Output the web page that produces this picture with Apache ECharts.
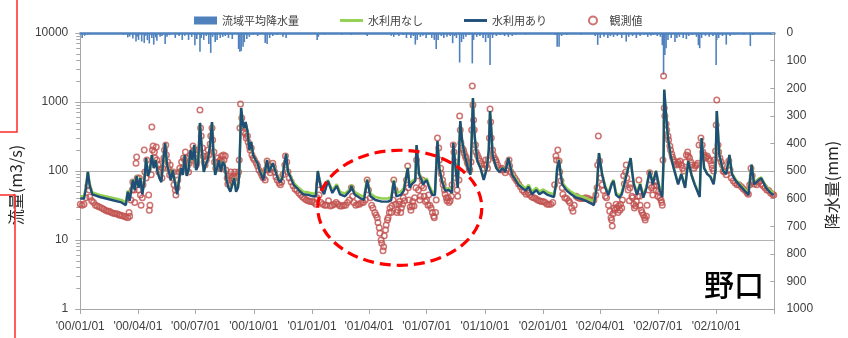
<!DOCTYPE html>
<html>
<head>
<meta charset="utf-8">
<script src="https://cdn.jsdelivr.net/npm/echarts@6/dist/echarts.min.js"></script>
<style>
  html, body { margin: 0; padding: 0; background: #ffffff; }
  #main { width: 848px; height: 338px; }
</style>
</head>
<body>
<div id="main"></div>
<script>
// Daily flow at 野口 (m3/s): [date, with water use, without water use]
const flow2000 = [
  ['2000-01-01',40,43],['2000-01-07',40,43],['2000-01-10',57,58],['2000-01-13',97,97],['2000-01-16',61,63],['2000-01-20',46,49],['2000-02-01',42,45],['2000-02-20',38,41],['2000-03-06',35,38],['2000-03-13',32,35],
  ['2000-03-16',50,52],['2000-03-19',37,40],['2000-03-24',74,76],['2000-03-27',53,56],['2000-03-30',85,86],['2000-04-02',57,60],['2000-04-05',79,80],['2000-04-08',46,49],['2000-04-11',69,70],['2000-04-14',154,154],
  ['2000-04-17',85,86],['2000-04-20',103,104],['2000-04-23',170,170],['2000-04-26',110,111],['2000-04-29',144,144],['2000-05-02',97,98],['2000-05-05',79,81],['2000-05-08',69,72],['2000-05-11',144,144],['2000-05-14',254,254],
  ['2000-05-17',122,122],['2000-05-20',97,98],['2000-05-23',74,76],['2000-05-26',103,104],['2000-05-30',63,66],['2000-06-02',46,49],['2000-06-05',74,76],['2000-06-08',110,110],['2000-06-11',88,89],['2000-06-14',170,170],
  ['2000-06-17',85,86],['2000-06-20',103,104],['2000-06-23',201,201],['2000-06-26',144,144],['2000-06-29',238,238],['2000-07-02',103,104],['2000-07-05',122,122],['2000-07-08',497,497],['2000-07-11',201,201],['2000-07-14',97,98],
  ['2000-07-17',122,122],['2000-07-20',144,144],['2000-07-23',201,201],['2000-07-27',513,513],['2000-07-29',201,201],['2000-08-01',88,89],['2000-08-04',110,110],['2000-08-07',144,144],['2000-08-10',97,98],['2000-08-13',135,135],
  ['2000-08-16',122,122],['2000-08-19',74,76],['2000-08-22',57,59],['2000-08-25',50,52],['2000-08-28',63,64],['2000-08-31',79,80],['2000-09-03',50,52],['2000-09-06',57,59],['2000-09-08',88,89],['2000-09-11',819,819],
  ['2000-09-14',465,465],['2000-09-16',420,420],['2000-09-18',513,513],['2000-09-21',380,380],['2000-09-24',201,201],['2000-09-27',263,263],['2000-09-30',170,170],['2000-10-04',144,144],['2000-10-07',130,130],['2000-10-10',103,104],
  ['2000-10-13',88,90],['2000-10-16',74,77],['2000-10-19',79,81],['2000-10-22',144,144],['2000-10-25',97,99],['2000-10-28',103,104],['2000-10-31',130,130],['2000-11-03',122,122],['2000-11-06',88,90],['2000-11-09',74,77],
  ['2000-11-12',69,72],['2000-11-15',79,81],['2000-11-18',122,122],['2000-11-21',176,176],['2000-11-24',97,99],['2000-11-27',85,88],['2000-12-03',63,67],['2000-12-11',53,57],['2000-12-18',46,50],['2000-12-26',45,49]
];
const flow2001 = [
  ['2001-01-02',43,47],['2001-01-07',43,47],['2001-01-10',100,100],['2001-01-15',57,61],['2001-01-20',46,50],['2001-01-26',72,74],['2001-02-02',48,52],['2001-02-09',61,64],['2001-02-14',46,50],['2001-02-22',43,47],
  ['2001-03-02',52,55],['2001-03-04',61,63],['2001-03-09',46,50],['2001-03-17',41,45],['2001-03-24',38,42],['2001-03-29',74,76],['2001-04-03',43,47],['2001-04-11',38,42],['2001-04-21',36,40],['2001-05-01',36,40],
  ['2001-05-06',38,42],['2001-05-10',72,74],['2001-05-14',43,48],['2001-05-21',45,50],['2001-05-26',52,57],['2001-06-01',110,112],['2001-06-04',57,62],['2001-06-08',65,71],['2001-06-13',72,77],['2001-06-15',238,238],
  ['2001-06-19',88,92],['2001-06-23',74,79],['2001-06-25',64,69],['2001-07-01',74,78],['2001-07-05',57,61],['2001-07-10',45,49],['2001-07-14',45,49],['2001-07-18',272,272],['2001-07-21',110,112],['2001-07-25',72,75],
  ['2001-07-30',52,55],['2001-08-05',53,56],['2001-08-10',48,51],['2001-08-12',254,254],['2001-08-16',100,101],['2001-08-19',57,59],['2001-08-21',57,59],['2001-08-23',530,530],['2001-08-26',272,272],['2001-08-30',170,170],
  ['2001-09-04',110,111],['2001-09-08',88,90],['2001-09-10',281,281],['2001-09-12',1143,1143],['2001-09-13',586,586],['2001-09-15',301,301],['2001-09-19',140,140],['2001-09-24',110,111],['2001-09-29',74,76],['2001-10-04',110,111],
  ['2001-10-07',201,201],['2001-10-09',740,740],['2001-10-11',393,393],['2001-10-13',170,170],['2001-10-19',110,111],['2001-10-24',97,99],['2001-10-29',110,111],['2001-11-02',97,99],['2001-11-07',154,154],['2001-11-13',88,92],
  ['2001-11-23',63,67],['2001-12-04',52,56],['2001-12-09',59,63],['2001-12-14',46,50],['2001-12-21',53,57],['2001-12-26',46,50]
];
const flow2002 = [
  ['2002-01-01',50,54],['2002-01-08',45,49],['2002-01-18',42,46],['2002-01-21',63,66],['2002-01-23',110,112],['2002-01-26',144,146],['2002-01-28',97,100],['2002-01-31',64,68],['2002-02-07',52,56],['2002-02-14',46,50],
  ['2002-02-22',41,45],['2002-03-02',39,43],['2002-03-09',37,41],['2002-03-17',34,38],['2002-03-22',32,36],['2002-03-27',63,65],['2002-03-30',182,182],['2002-04-04',88,90],['2002-04-09',57,60],['2002-04-14',45,48],
  ['2002-04-19',64,67],['2002-04-22',72,74],['2002-04-26',45,48],['2002-05-01',41,44],['2002-05-05',46,49],['2002-05-09',64,67],['2002-05-14',100,102],['2002-05-19',154,154],['2002-05-21',103,104],['2002-05-24',64,67],
  ['2002-05-29',45,48],['2002-06-03',64,66],['2002-06-08',41,44],['2002-06-13',57,60],['2002-06-18',100,101],['2002-06-23',64,67],['2002-06-28',100,101],['2002-07-04',52,55],['2002-07-08',42,45],['2002-07-10',144,144],
  ['2002-07-11',1510,1510],['2002-07-14',650,650],['2002-07-17',301,301],['2002-07-21',171,171],['2002-07-26',110,111],['2002-08-02',64,66],['2002-08-07',90,91],['2002-08-13',57,59],['2002-08-18',140,140],['2002-08-23',88,89],
  ['2002-08-28',64,66],['2002-09-05',42,44],['2002-09-08',301,301],['2002-09-12',110,111],['2002-09-17',90,91],['2002-09-22',82,84],['2002-09-27',64,66],['2002-09-30',103,104],['2002-10-02',740,740],['2002-10-06',171,171],
  ['2002-10-12',100,101],['2002-10-17',90,92],['2002-10-22',171,171],['2002-10-26',90,92],['2002-11-01',72,75],['2002-11-11',57,60],['2002-11-21',45,48],['2002-11-26',124,124],['2002-11-30',64,67],['2002-12-06',72,75],
  ['2002-12-11',79,81],['2002-12-19',57,60],['2002-12-26',48,51],['2002-12-31',45,48]
];

// Observed discharge (m3/s)
const obs2000 = [
  ['2000-01-01',33],['2000-01-04',32],['2000-01-07',33],['2000-01-10',41],['2000-01-13',61],['2000-01-15',53],['2000-01-16',42],['2000-01-19',37],['2000-01-22',35],['2000-01-25',32],
  ['2000-01-28',31],['2000-01-31',30],['2000-02-04',29],['2000-02-07',28],['2000-02-10',27],['2000-02-13',26],['2000-02-16',26],['2000-02-19',25],['2000-02-22',24.5],['2000-02-25',24],
  ['2000-02-28',24],['2000-03-02',23],['2000-03-04',23],['2000-03-07',22.5],['2000-03-10',22],['2000-03-13',21.5],['2000-03-16',21],['2000-03-18',25],['2000-03-19',22],
  ['2000-03-21',38],['2000-03-23',53],['2000-03-24',69],['2000-03-26',53],['2000-03-27',35],['2000-03-29',130],['2000-03-30',160],['2000-03-31',79],['2000-04-02',53],['2000-04-03',79],
  ['2000-04-05',45],['2000-04-06',32],['2000-04-08',41],['2000-04-09',63],['2000-04-11',201],['2000-04-12',97],['2000-04-14',79],['2000-04-15',144],['2000-04-17',103],['2000-04-18',45],
  ['2000-04-19',27],['2000-04-20',32],['2000-04-22',88],['2000-04-23',435],['2000-04-24',201],['2000-04-25',230],['2000-04-27',188],['2000-04-28',154],['2000-04-30',222],['2000-05-01',144],
  ['2000-05-03',122],['2000-05-04',97],['2000-05-06',126],['2000-05-07',103],['2000-05-09',79],['2000-05-10',110],['2000-05-12',154],['2000-05-13',201],['2000-05-15',238],['2000-05-16',170],
  ['2000-05-18',135],['2000-05-19',110],['2000-05-21',88],['2000-05-22',122],['2000-05-24',97],['2000-05-25',79],['2000-05-27',97],['2000-05-28',63],['2000-05-30',53],['2000-05-31',45],
  ['2000-06-02',57],['2000-06-03',74],['2000-06-05',97],['2000-06-06',110],['2000-06-08',97],['2000-06-09',135],['2000-06-11',110],['2000-06-12',154],['2000-06-14',144],['2000-06-15',188],
  ['2000-06-17',154],['2000-06-18',118],['2000-06-20',97],['2000-06-21',130],['2000-06-23',170],['2000-06-24',144],['2000-06-26',188],['2000-06-27',230],['2000-06-29',201],['2000-06-30',154],
  ['2000-07-02',122],['2000-07-03',135],['2000-07-05',201],['2000-07-08',766],['2000-07-09',420],['2000-07-10',321],['2000-07-12',215],['2000-07-13',165],['2000-07-15',135],['2000-07-16',122],
  ['2000-07-18',144],['2000-07-19',165],['2000-07-21',201],['2000-07-22',170],['2000-07-24',246],['2000-07-25',321],['2000-07-27',420],['2000-07-28',281],['2000-07-30',188],['2000-07-31',135],
  ['2000-08-02',110],['2000-08-03',130],['2000-08-05',154],['2000-08-06',135],['2000-08-08',110],['2000-08-09',144],['2000-08-11',165],['2000-08-12',135],['2000-08-14',170],['2000-08-15',144],
  ['2000-08-17',165],['2000-08-18',103],['2000-08-20',79],['2000-08-21',65],['2000-08-23',74],['2000-08-24',85],['2000-08-26',97],['2000-08-27',79],['2000-08-29',69],['2000-08-30',85],
  ['2000-09-01',97],['2000-09-02',79],['2000-09-04',69],['2000-09-05',85],['2000-09-07',97],['2000-09-08',144],['2000-09-09',420],['2000-09-10',936],['2000-09-12',586],['2000-09-13',449],
  ['2000-09-15',367],['2000-09-16',420],['2000-09-18',344],['2000-09-19',301],['2000-09-21',321],['2000-09-22',263],['2000-09-24',230],['2000-09-25',201],['2000-09-27',215],['2000-09-28',170],
  ['2000-09-30',154],['2000-10-02',144],['2000-10-05',130],['2000-10-07',118],['2000-10-09',103],['2000-10-12',94],['2000-10-14',85],['2000-10-16',79],['2000-10-19',74],['2000-10-20',103],
  ['2000-10-22',140],['2000-10-23',122],['2000-10-25',103],['2000-10-27',94],['2000-10-29',110],['2000-10-31',130],['2000-11-01',114],['2000-11-03',97],['2000-11-05',82],['2000-11-07',74],
  ['2000-11-10',67],['2000-11-12',63],['2000-11-14',69],['2000-11-16',88],['2000-11-19',122],['2000-11-20',165],['2000-11-22',135],['2000-11-24',97],['2000-11-26',79],['2000-11-29',69],
  ['2000-12-02',61],['2000-12-05',55],['2000-12-08',52],['2000-12-11',48],['2000-12-14',45],['2000-12-17',42],['2000-12-20',40],['2000-12-23',38],['2000-12-26',37],['2000-12-29',36]
];
const obs2001 = [
  ['2001-01-01',36],['2001-01-04',35],['2001-01-07',33],['2001-01-09',41],['2001-01-11',63],['2001-01-12',45],['2001-01-15',35],['2001-01-18',33],['2001-01-21',32],['2001-01-24',32],
  ['2001-01-27',37],['2001-01-30',31],['2001-02-02',32],['2001-02-05',33],['2001-02-08',35],['2001-02-11',33],['2001-02-14',31],['2001-02-17',31],['2001-02-20',32],['2001-02-23',32],
  ['2001-02-26',35],['2001-03-01',38],['2001-03-04',57],['2001-03-06',43],['2001-03-08',35],['2001-03-11',32],['2001-03-14',33],['2001-03-17',33],['2001-03-20',35],['2001-03-23',35],
  ['2001-03-26',38],['2001-03-29',74],['2001-03-31',53],['2001-04-03',41],['2001-04-05',32],['2001-04-07',29],['2001-04-10',25],['2001-04-12',23],['2001-04-14',21],['2001-04-15',18],
  ['2001-04-17',15],['2001-04-18',12.5],['2001-04-20',10],['2001-04-21',9],['2001-04-23',7],['2001-04-24',8],['2001-04-25',11.5],['2001-04-27',14],['2001-04-28',16.5],['2001-04-30',19.5],
  ['2001-05-01',21],['2001-05-03',25],['2001-05-04',29],['2001-05-06',25],['2001-05-07',31],['2001-05-09',38],['2001-05-10',74],['2001-05-12',53],['2001-05-13',33],['2001-05-15',25],
  ['2001-05-16',27],['2001-05-18',33],['2001-05-19',36],['2001-05-21',25],['2001-05-22',29],['2001-05-24',33],['2001-05-25',41],['2001-05-27',37],['2001-05-28',50],['2001-05-30',74],
  ['2001-06-01',118],['2001-06-02',57],['2001-06-03',38],['2001-06-05',30],['2001-06-06',27],['2001-06-08',31],['2001-06-09',36],['2001-06-11',31],['2001-06-12',41],['2001-06-14',57],
  ['2001-06-15',144],['2001-06-17',85],['2001-06-18',53],['2001-06-20',38],['2001-06-21',43],['2001-06-23',61],['2001-06-24',74],['2001-06-26',57],['2001-06-27',43],['2001-06-29',36],
  ['2001-07-01',38],['2001-07-03',32],['2001-07-04',45],['2001-07-06',32],['2001-07-08',29],['2001-07-10',25],['2001-07-12',22],['2001-07-13',21],['2001-07-15',25],['2001-07-16',38],
  ['2001-07-18',301],['2001-07-20',215],['2001-07-21',144],['2001-07-23',110],['2001-07-24',91],['2001-07-26',74],['2001-07-27',63],['2001-07-29',53],['2001-07-30',46],['2001-08-01',41],
  ['2001-08-02',37],['2001-08-04',41],['2001-08-05',35],['2001-08-07',37],['2001-08-09',43],['2001-08-10',63],['2001-08-12',238],['2001-08-13',188],['2001-08-15',135],['2001-08-16',79],
  ['2001-08-18',53],['2001-08-19',43],['2001-08-21',74],['2001-08-22',627],['2001-08-23',393],['2001-08-24',254],['2001-08-26',215],['2001-08-28',201],['2001-08-29',182],['2001-08-31',165],
  ['2001-09-01',154],['2001-09-03',135],['2001-09-04',126],['2001-09-06',110],['2001-09-07',103],['2001-09-09',135],['2001-09-10',393],['2001-09-11',1706],['2001-09-12',906],['2001-09-13',548],
  ['2001-09-14',393],['2001-09-16',238],['2001-09-17',188],['2001-09-19',170],['2001-09-21',154],['2001-09-23',140],['2001-09-26',126],['2001-09-28',110],['2001-09-30',122],['2001-10-02',144],
  ['2001-10-03',122],['2001-10-05',110],['2001-10-06',144],['2001-10-08',301],['2001-10-09',790],['2001-10-10',513],['2001-10-11',301],['2001-10-13',201],['2001-10-14',170],['2001-10-16',154],
  ['2001-10-18',144],['2001-10-19',135],['2001-10-21',122],['2001-10-24',110],['2001-10-26',103],['2001-10-28',110],['2001-10-30',103],['2001-11-02',94],['2001-11-04',103],['2001-11-06',130],
  ['2001-11-08',144],['2001-11-09',118],['2001-11-11',97],['2001-11-14',88],['2001-11-17',79],['2001-11-20',72],['2001-11-23',65],['2001-11-26',59],['2001-11-29',53],['2001-12-02',50],
  ['2001-12-05',46],['2001-12-08',48],['2001-12-11',45],['2001-12-14',42],['2001-12-17',41],['2001-12-20',40],['2001-12-23',38],['2001-12-26',37],['2001-12-29',36]
];
const obs2002 = [
  ['2002-01-01',36],['2002-01-04',35],['2002-01-07',33],['2002-01-10',33],['2002-01-13',33],['2002-01-16',35],['2002-01-19',63],['2002-01-21',165],['2002-01-22',144],['2002-01-24',201],
  ['2002-01-26',140],['2002-01-27',97],['2002-01-29',72],['2002-01-31',57],['2002-02-01',46],['2002-02-04',41],['2002-02-07',40],['2002-02-10',37],['2002-02-12',35],['2002-02-15',29],
  ['2002-02-17',26],['2002-02-19',32],['2002-02-22',43],['2002-02-25',41],['2002-02-28',40],['2002-03-03',40],['2002-03-06',40],['2002-03-09',41],['2002-03-13',40],['2002-03-16',38],
  ['2002-03-19',38],['2002-03-22',38],['2002-03-25',45],['2002-03-27',57],['2002-03-28',122],['2002-03-29',321],['2002-03-31',140],['2002-04-02',79],['2002-04-04',63],['2002-04-06',52],
  ['2002-04-09',43],['2002-04-11',41],['2002-04-14',32],['2002-04-16',26],['2002-04-18',21],['2002-04-19',19.5],['2002-04-20',16],['2002-04-21',24],['2002-04-23',29],['2002-04-24',27],
  ['2002-04-26',33],['2002-04-27',29],['2002-04-29',25],['2002-04-30',31],['2002-05-02',27],['2002-05-03',33],['2002-05-05',29],['2002-05-06',38],['2002-05-08',85],['2002-05-09',65],
  ['2002-05-11',97],['2002-05-12',122],['2002-05-13',79],['2002-05-15',53],['2002-05-17',37],['2002-05-18',57],['2002-05-19',65],['2002-05-21',43],['2002-05-22',41],['2002-05-24',33],
  ['2002-05-25',29],['2002-05-27',31],['2002-05-28',36],['2002-05-30',43],['2002-06-01',74],['2002-06-02',43],['2002-06-03',32],['2002-06-05',27],['2002-06-06',25],['2002-06-08',23],
  ['2002-06-10',21],['2002-06-11',19.5],['2002-06-13',22],['2002-06-14',32],['2002-06-16',53],['2002-06-18',94],['2002-06-20',74],['2002-06-21',57],['2002-06-23',45],['2002-06-25',61],
  ['2002-06-26',69],['2002-06-28',53],['2002-06-29',61],['2002-07-01',43],['2002-07-02',50],['2002-07-04',41],['2002-07-06',38],['2002-07-07',35],['2002-07-08',32],['2002-07-09',144],
  ['2002-07-10',2380],['2002-07-11',819],['2002-07-12',627],['2002-07-14',480],['2002-07-15',393],['2002-07-17',321],['2002-07-18',281],['2002-07-20',230],['2002-07-21',201],['2002-07-23',176],
  ['2002-07-24',160],['2002-07-26',144],['2002-07-27',135],['2002-07-29',126],['2002-07-31',122],['2002-08-02',135],['2002-08-03',126],['2002-08-05',140],['2002-08-07',122],['2002-08-09',110],
  ['2002-08-11',100],['2002-08-14',135],['2002-08-15',170],['2002-08-17',188],['2002-08-18',165],['2002-08-20',154],['2002-08-22',135],['2002-08-24',122],['2002-08-27',110],['2002-08-29',118],
  ['2002-08-31',122],['2002-09-02',130],['2002-09-04',238],['2002-09-07',301],['2002-09-09',238],['2002-09-10',188],['2002-09-12',170],['2002-09-14',154],['2002-09-15',160],['2002-09-17',165],
  ['2002-09-19',150],['2002-09-22',140],['2002-09-24',122],['2002-09-25',110],['2002-09-27',100],['2002-09-28',144],['2002-09-30',195],['2002-10-01',465],['2002-10-02',1070],['2002-10-04',238],
  ['2002-10-05',188],['2002-10-07',154],['2002-10-09',135],['2002-10-11',122],['2002-10-12',100],['2002-10-14',97],['2002-10-17',88],['2002-10-20',103],['2002-10-21',140],['2002-10-23',103],
  ['2002-10-25',79],['2002-10-28',72],['2002-10-31',67],['2002-11-03',63],['2002-11-06',63],['2002-11-10',59],['2002-11-13',55],['2002-11-16',52],['2002-11-19',48],['2002-11-21',46],
  ['2002-11-23',63],['2002-11-25',110],['2002-11-27',85],['2002-11-28',69],['2002-11-30',65],['2002-12-04',63],['2002-12-07',69],['2002-12-09',72],['2002-12-11',65],['2002-12-14',61],
  ['2002-12-17',57],['2002-12-20',53],['2002-12-23',52],['2002-12-26',48],['2002-12-29',46],['2002-12-31',45]
];

// Basin-average daily rainfall (mm)
const rain2000 = [
  ['2000-01-04',18],['2000-01-08',10],['2000-01-13',6],['2000-02-14',3],['2000-02-20',4],['2000-03-09',6],['2000-03-16',16],['2000-03-19',13],['2000-03-24',20],['2000-03-29',31],
  ['2000-03-31',13],['2000-04-02',25],['2000-04-07',31],['2000-04-11',36],['2000-04-13',10],['2000-04-16',26],['2000-04-19',38],['2000-04-23',18],['2000-04-26',42],['2000-04-29',16],
  ['2000-05-01',28],['2000-05-06',14],['2000-05-09',11],['2000-05-14',40],['2000-05-17',14],['2000-05-21',8],['2000-05-30',18],['2000-06-05',11],['2000-06-10',25],['2000-06-14',10],
  ['2000-06-20',25],['2000-06-25',14],['2000-06-30',44],['2000-07-03',22],['2000-07-08',68],['2000-07-10',18],['2000-07-14',25],['2000-07-18',11],['2000-07-22',40],['2000-07-25',72],
  ['2000-07-28',14],['2000-08-01',33],['2000-08-04',25],['2000-08-09',18],['2000-08-13',14],['2000-08-17',11],['2000-08-22',18],['2000-08-28',22],['2000-09-07',58],['2000-09-09',68],
  ['2000-09-11',65],['2000-09-14',50],['2000-09-16',33],['2000-09-20',22],['2000-09-24',14],['2000-09-30',7],['2000-10-07',11],['2000-10-12',4],['2000-10-19',36],['2000-10-22',40],
  ['2000-10-26',18],['2000-10-31',11],['2000-11-07',7],['2000-11-16',14],['2000-11-21',18],['2000-11-28',4],['2000-12-15',3],['2000-12-26',3]
];
const rain2001 = [
  ['2001-01-09',25],['2001-01-11',14],['2001-01-21',6],['2001-02-02',4],['2001-02-17',6],['2001-03-04',7],['2001-03-16',4],['2001-03-29',11],['2001-04-10',4],['2001-04-25',4],
  ['2001-05-06',10],['2001-05-10',14],['2001-05-18',11],['2001-05-25',7],['2001-05-30',18],['2001-06-06',18],['2001-06-10',11],['2001-06-13',42],['2001-06-16',25],['2001-06-21',14],
  ['2001-06-25',10],['2001-06-30',18],['2001-07-04',6],['2001-07-09',18],['2001-07-13',25],['2001-07-16',58],['2001-07-19',25],['2001-07-24',11],['2001-07-28',18],['2001-08-02',14],
  ['2001-08-07',11],['2001-08-11',37],['2001-08-14',11],['2001-08-17',18],['2001-08-22',107],['2001-08-25',33],['2001-08-28',22],['2001-09-01',14],['2001-09-06',7],['2001-09-11',110],
  ['2001-09-13',25],['2001-09-18',14],['2001-09-23',11],['2001-09-28',18],['2001-10-02',33],['2001-10-06',18],['2001-10-09',116],['2001-10-13',18],['2001-10-19',11],['2001-10-25',7],
  ['2001-11-01',11],['2001-11-07',14],['2001-11-13',11],['2001-11-19',6],['2001-11-25',4],['2001-12-04',6],['2001-12-16',3],['2001-12-28',4]
];
const rain2002 = [
  ['2002-01-09',4],['2002-01-20',7],['2002-01-23',50],['2002-01-26',50],['2002-01-30',11],['2002-02-07',7],['2002-02-17',4],['2002-03-02',6],['2002-03-14',4],['2002-03-24',11],
  ['2002-03-28',43],['2002-04-01',18],['2002-04-07',14],['2002-04-13',18],['2002-04-17',11],['2002-04-22',14],['2002-04-28',11],['2002-05-05',18],['2002-05-12',31],['2002-05-16',14],
  ['2002-05-22',11],['2002-05-28',18],['2002-06-03',11],['2002-06-09',6],['2002-06-15',14],['2002-06-20',10],['2002-06-24',7],['2002-06-30',11],['2002-07-05',14],['2002-07-08',44],
  ['2002-07-10',151],['2002-07-12',80],['2002-07-14',55],['2002-07-17',25],['2002-07-22',18],['2002-07-28',33],['2002-07-31',18],['2002-08-04',14],['2002-08-10',18],['2002-08-15',22],
  ['2002-08-19',11],['2002-08-25',7],['2002-08-31',14],['2002-09-03',44],['2002-09-05',55],['2002-09-08',18],['2002-09-14',10],['2002-09-20',14],['2002-09-26',11],['2002-10-01',116],
  ['2002-10-02',25],['2002-10-05',18],['2002-10-11',11],['2002-10-17',42],['2002-10-23',11],['2002-10-30',6],['2002-11-06',4],['2002-11-14',6],['2002-11-24',47],['2002-11-28',7],
  ['2002-12-07',4],['2002-12-17',4],['2002-12-26',6]
];

// Quarterly date ticks along the bottom axis
const quarterTicks = [
  '2000-01-01','2000-04-01','2000-07-01','2000-10-01','2001-01-01','2001-04-01','2001-07-01',
  '2001-10-01','2002-01-01','2002-04-01','2002-07-01','2002-10-01','2003-01-01'
];

// Dashed ellipse drawn around the spring 2001 low-flow period (date range / flow range)
const lowFlowNote = { from: '2001-01-10', to: '2001-09-26', high: 200, low: 4.3 };

const seriesNames = ['流域平均降水量', '水利用なし', '水利用あり', '観測値'];

// dates become timestamps on a numeric x axis
const ts = s => +echarts.time.parse(s);
const flowData = flow2000.concat(flow2001, flow2002);
const obsData = obs2000.concat(obs2001, obs2002).map(r => [ts(r[0]), r[1]]);
const rainData = rain2000.concat(rain2001, rain2002).map(r => [ts(r[0]), r[1]]);
const tickTimes = quarterTicks.map(ts);

const jpFont = '"Noto Sans CJK JP", "Noto Sans", sans-serif';
const numFont = '"Liberation Sans", Arial, sans-serif';
const axisGray = '#a6a6a6';
const lineIcon = 'path://M0,0L24,0L24,3L0,3Z';

function pad2(n) { return String(n).padStart(2, '0'); }
function shortDate(v) {
  const d = new Date(v);
  return "'" + pad2(d.getFullYear() % 100) + '/' + pad2(d.getMonth() + 1) + '/' + pad2(d.getDate());
}
const plainNumber = v => String(v);

const chart = echarts.init(document.getElementById('main'), null, { renderer: 'canvas' });

const xMin = tickTimes[0];
const xMax = tickTimes[tickTimes.length - 1];

chart.setOption({
  animation: false,
  backgroundColor: '#ffffff',
  grid: { left: 67, right: 56, top: 33, bottom: 29 },
  legend: {
    data: [
      { name: seriesNames[0], icon: 'rect' },
      { name: seriesNames[1], icon: lineIcon },
      { name: seriesNames[2], icon: lineIcon },
      { name: seriesNames[3], icon: 'circle' }
    ],
    top: 10,
    left: 189,
    itemWidth: 23,
    itemHeight: 8,
    itemGap: 41,
    textStyle: { fontFamily: jpFont, fontSize: 11, color: '#404040' }
  },
  xAxis: [
    {
      type: 'value',
      min: xMin,
      max: xMax,
      axisLine: { show: true, onZero: false, lineStyle: { color: axisGray, width: 1 } },
      axisTick: { show: true, customValues: tickTimes, length: 5, lineStyle: { color: axisGray } },
      axisLabel: {
        customValues: tickTimes.slice(0, -1),
        formatter: shortDate,
        color: '#404040',
        fontFamily: numFont,
        fontSize: 12,
        margin: 12
      },
      splitLine: { show: false }
    },
    {
      type: 'value',
      position: 'top',
      min: xMin,
      max: xMax,
      axisLine: { show: true, onZero: false, lineStyle: { color: '#4F81BD', width: 2.5 } },
      axisTick: { show: false },
      axisLabel: { show: false },
      splitLine: { show: false }
    }
  ],
  yAxis: [
    {
      type: 'log',
      logBase: 10,
      min: 1,
      max: 10000,
      name: '流量(m3/s)',
      nameLocation: 'middle',
      nameGap: 40,
      nameTextStyle: { fontFamily: jpFont, fontSize: 16, color: '#262626', padding: [0, 28, 0, 0] },
      axisLine: { show: true, lineStyle: { color: axisGray } },
      axisTick: { show: true, length: 5, lineStyle: { color: axisGray } },
      minorTick: { show: true, splitNumber: 9, length: 4, lineStyle: { color: axisGray } },
      axisLabel: { color: '#404040', fontFamily: numFont, fontSize: 12, margin: 12, formatter: plainNumber },
      splitLine: { show: true, lineStyle: { color: '#b4b4b4', width: 1 } }
    },
    {
      type: 'value',
      position: 'right',
      inverse: true,
      min: 0,
      max: 1000,
      interval: 100,
      name: '降水量(mm)',
      nameLocation: 'middle',
      nameGap: 36,
      nameTextStyle: { fontFamily: jpFont, fontSize: 16, color: '#262626', padding: [0, 28, 0, 0] },
      axisLine: { show: true, lineStyle: { color: axisGray } },
      axisTick: { show: true, inside: true, length: 4, lineStyle: { color: axisGray } },
      axisLabel: { color: '#404040', fontFamily: numFont, fontSize: 12, margin: 12, formatter: plainNumber },
      splitLine: { show: false }
    }
  ],
  series: [
    {
      name: seriesNames[0],
      type: 'bar',
      xAxisIndex: 0,
      yAxisIndex: 1,
      barWidth: 1.6,
      itemStyle: { color: '#4F81BD' },
      data: rainData
    },
    {
      name: seriesNames[1],
      type: 'line',
      xAxisIndex: 0,
      yAxisIndex: 0,
      symbol: 'none',
      showSymbol: false,
      lineStyle: { color: '#92D050', width: 2.6 },
      itemStyle: { color: '#92D050' },
      data: flowData.map(r => [ts(r[0]), r[2]])
    },
    {
      name: seriesNames[2],
      type: 'line',
      xAxisIndex: 0,
      yAxisIndex: 0,
      symbol: 'none',
      showSymbol: false,
      lineStyle: { color: '#1F4E79', width: 2.4 },
      itemStyle: { color: '#1F4E79' },
      data: flowData.map(r => [ts(r[0]), r[1]])
    },
    {
      name: seriesNames[3],
      type: 'scatter',
      xAxisIndex: 0,
      yAxisIndex: 0,
      symbol: 'circle',
      symbolSize: 5.5,
      itemStyle: { color: 'rgba(255,255,255,0)', borderColor: '#C0504D', borderWidth: 1.5 },
      data: obsData
    }
  ]
});

// Annotation layer: dashed ellipse, station name and slide frame edges
const pTop = chart.convertToPixel({ seriesIndex: 3 }, [ts(lowFlowNote.from), lowFlowNote.high]);
const pBot = chart.convertToPixel({ seriesIndex: 3 }, [ts(lowFlowNote.to), lowFlowNote.low]);

chart.setOption({
  graphic: [
    {
      type: 'ellipse',
      shape: {
        cx: (pTop[0] + pBot[0]) / 2,
        cy: (pTop[1] + pBot[1]) / 2,
        rx: Math.abs(pBot[0] - pTop[0]) / 2,
        ry: Math.abs(pBot[1] - pTop[1]) / 2
      },
      style: { fill: 'none', stroke: '#ff0000', lineWidth: 3.2, lineDash: [11, 6] },
      z: 100
    },
    {
      type: 'text',
      left: 704,
      top: 270,
      style: { text: '野口', fill: '#000000', font: '500 30px "Noto Sans CJK JP"' },
      z: 100
    },
    {
      type: 'polyline',
      shape: { points: [[17, 0], [17, 132], [0, 132]] },
      style: { fill: 'none', stroke: '#ff2a2a', lineWidth: 1.5 },
      z: 100
    },
    {
      type: 'polyline',
      shape: { points: [[0, 195], [15, 195], [15, 338]] },
      style: { fill: 'none', stroke: '#ff2a2a', lineWidth: 1.5 },
      z: 100
    }
  ]
});
</script>
</body>
</html>
